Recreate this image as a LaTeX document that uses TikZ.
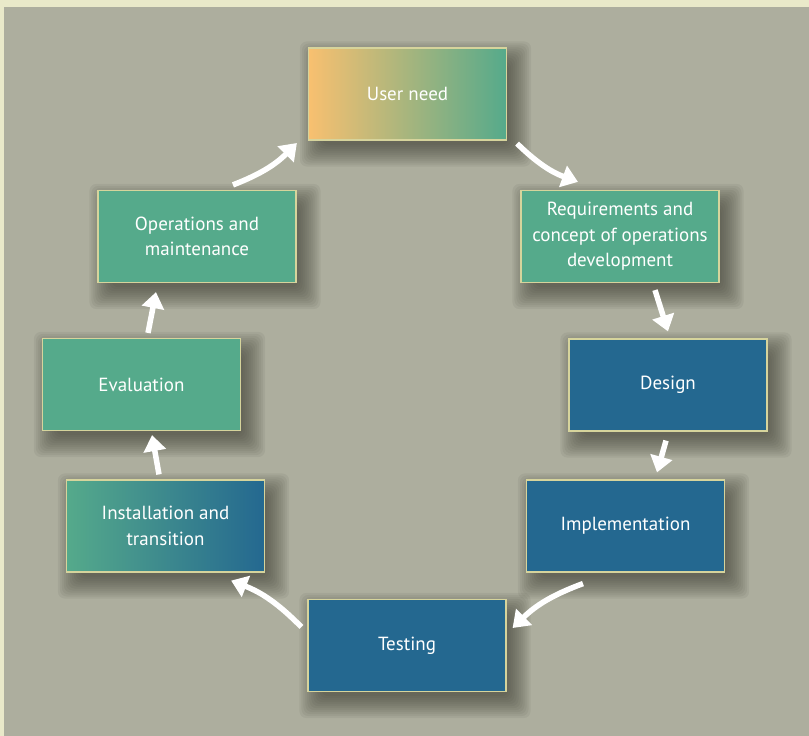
\documentclass[tikz,border=0pt]{standalone}
\usepackage{fontspec}
\setmainfont{PT Sans}
\usetikzlibrary{arrows.meta,calc,backgrounds}
\definecolor{bggray}{HTML}{ADAE9E}
\definecolor{bgbeige}{HTML}{E9E9C9}
\definecolor{boxgreen}{HTML}{55AA8B}
\definecolor{boxblue}{HTML}{246890}
\definecolor{boxorange}{HTML}{F8C070}
\definecolor{boxmid}{HTML}{B4B884}
\definecolor{boxline}{HTML}{D6D49C}
\definecolor{shadowcol}{HTML}{3A3A30}
\tikzset{
  stage/.style={draw=boxline, line width=1.2pt, minimum width=198pt, minimum height=92pt,
    text=white, align=center, font=\fontsize{19}{25.5}\selectfont, inner sep=0pt},
  greenbox/.style={stage, fill=boxgreen},
  bluebox/.style={stage, fill=boxblue},
  arr/.style={draw=white, line width=5.5pt, -{Triangle[width=22pt,length=16pt]}},
  shadowlayer/.style={fill=shadowcol, fill opacity=0.07}
}
\begin{document}
\begin{tikzpicture}[x=1pt,y=1pt]
\useasboundingbox (0,0) rectangle (809,-736);
\begin{scope}[on background layer]
\fill[bgbeige] (0,0) rectangle (809,-736);
\fill[bggray] (4,-7) rectangle (809,-736);
\end{scope}
\node[stage, left color=boxorange, middle color=boxmid, right color=boxgreen] (un) at (407.5,-94) {User need};
\node[greenbox] (rq) at (620,-236.5) {Requirements and\\concept of operations\\development};
\node[bluebox] (ds) at (668,-385) {Design};
\node[bluebox] (im) at (625.5,-526) {Implementation};
\node[bluebox] (ts) at (407,-645.5) {Testing};
\node[stage, left color=boxgreen, right color=boxblue] (in) at (165.5,-526) {Installation and\\transition};
\node[greenbox] (ev) at (141.5,-384.5) {Evaluation};
\node[greenbox] (op) at (197,-236.5) {Operations and\\maintenance};
\begin{scope}[on background layer]
\foreach \n in {un,rq,ds,im,ts,in,ev,op}{
  \foreach \r in {-6,-4,...,16}{
    \fill[shadowlayer, rounded corners=7pt] ($(\n.south west)+(8-\r,-10-\r)$) rectangle ($(\n.north east)+(8+\r,-10+\r)$);
  }
}
\end{scope}
\draw[arr] ([shift={(10,-3)}]un.south east) to[bend right=12] ([shift={(-42,8)}]rq.north);
\draw[arr] ([shift={(35,-7)}]rq.south) -- ([shift={(0,7)}]ds.north);
\draw[arr] ([shift={(-2,-9)}]ds.south) -- ([shift={(31.5,7)}]im.north);
\draw[arr] ([shift={(-42.5,-11)}]im.south) to[bend right=12] ([shift={(6,17.5)}]ts.east);
\draw[arr] ([shift={(-6,18.5)}]ts.west) to[bend right=12] ([shift={(-34,-8)}]in.south east);
\draw[arr] ([shift={(-6.5,5)}]in.north) -- ([shift={(10.5,-4)}]ev.south);
\draw[arr] ([shift={(6.5,5)}]ev.north) -- ([shift={(-41,-9)}]op.south);
\draw[arr] ([shift={(36,5)}]op.north) to[bend right=12] ([shift={(-11,-49)}]un.west);
\end{tikzpicture}
\end{document}
